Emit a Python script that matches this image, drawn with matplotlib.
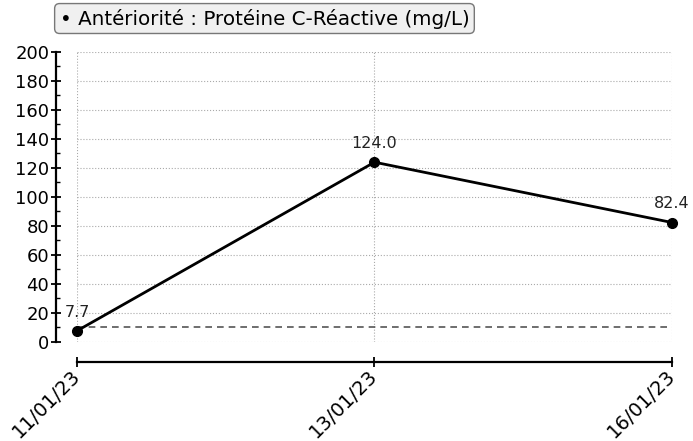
import matplotlib.pyplot as plt
from matplotlib.ticker import MultipleLocator

# CRP history, values
dates = ['11/01/23', '13/01/23', '16/01/23']
crp = [7.7, 124.0, 82.4]
seuil = 10  # upper normal limit (dashed line)
legend_text = '\u2022 Antériorité : Protéine C-Réactive (mg/L)'

fig = plt.figure(figsize=(6.93, 4.41), dpi=100)
ax = fig.add_axes([0.1111, 0.2245, 0.8586, 0.6576])

x = list(range(len(dates)))
ax.plot(x, crp, color='black', lw=2, marker='o', markersize=7, clip_on=False, zorder=5)
for xi, v in zip(x, crp):
    ax.annotate(f'{v:.1f}', (xi, v), xytext=(0, 8), textcoords='offset points',
                ha='center', va='bottom', fontsize=11.5, color='#222222',
                annotation_clip=False)

ax.axhline(seuil, color='#555555', lw=1.2, linestyle=(0, (4, 3)), zorder=3)

ax.set_xlim(0, 2)
ax.set_ylim(0, 200)
ax.set_xticks(x)
ax.set_xticklabels(dates)
ax.yaxis.set_major_locator(MultipleLocator(20))
ax.yaxis.set_minor_locator(MultipleLocator(10))

ax.grid(True, linestyle=':', color='#aaaaaa', lw=0.8)
ax.set_axisbelow(True)

ax.spines['top'].set_visible(False)
ax.spines['right'].set_visible(False)
ax.spines['left'].set_position(('outward', 15))
ax.spines['bottom'].set_position(('outward', 14.5))
ax.spines['left'].set_linewidth(1.6)
ax.spines['bottom'].set_linewidth(1.6)

ax.tick_params(axis='y', which='major', direction='inout', length=7, width=1.3,
               labelsize=13, pad=1.5)
ax.tick_params(axis='y', which='minor', direction='in', length=3, width=1)
ax.tick_params(axis='x', direction='inout', length=7, width=1.3, labelsize=14, pad=4,
               labelrotation=45)
for lab in ax.get_xticklabels():
    lab.set_ha('right')
    lab.set_va('center')
    lab.set_rotation_mode('anchor')

fig.text(0.086, 0.958, legend_text, fontsize=14.3, ha='left', va='center',
         bbox=dict(boxstyle='round,pad=0.25', fc='#f0f0f0', ec='#777777', lw=1))

fig.savefig('out.png', dpi=100)
